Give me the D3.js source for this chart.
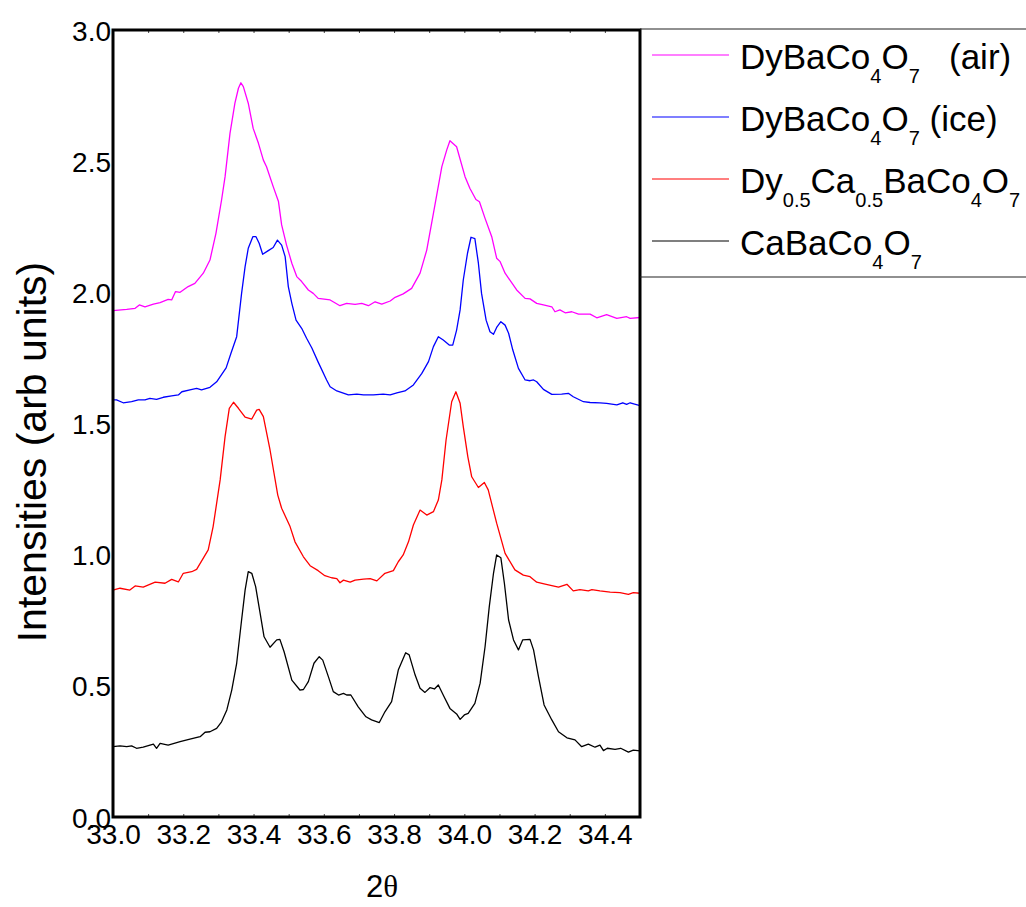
<!DOCTYPE html>
<html>
<head>
<meta charset="utf-8">
<script src="https://cdn.jsdelivr.net/npm/d3@7"></script>
<style>
  html, body { margin: 0; padding: 0; background: #fff; }
  svg { display: block; }
  text { font-family: "Liberation Sans", Arial, Helvetica, sans-serif; fill: #000; }
</style>
</head>
<body>
<svg id="chart" width="1026" height="907"></svg>
<script>
// ---- data ----
const xTicks = [33.0, 33.2, 33.4, 33.6, 33.8, 34.0, 34.2, 34.4];
const xTickLabels = ["33.0", "33.2", "33.4", "33.6", "33.8", "34.0", "34.2", "34.4"];
const yTicks = [0.0, 0.5, 1.0, 1.5, 2.0, 2.5, 3.0];
const yTickLabels = ["0.0", "0.5", "1.0", "1.5", "2.0", "2.5", "3.0"];

const seriesNames = ["DyBaCo4O7 (air)", "DyBaCo4O7 (ice)", "Dy0.5Ca0.5BaCo4O7", "CaBaCo4O7"];
const seriesColors = ["#ff00ff", "#0000ff", "#ff0000", "#000000"];

const airData = [
 [33.000,1.930],[33.039,1.935],[33.063,1.939],[33.075,1.952],[33.091,1.945],[33.115,1.955],[33.134,1.961],
 [33.157,1.973],[33.167,1.971],[33.178,2.003],[33.191,2.000],[33.214,2.022],[33.233,2.034],[33.257,2.073],
 [33.276,2.123],[33.293,2.225],[33.309,2.352],[33.319,2.441],[33.333,2.606],[33.347,2.721],[33.357,2.778],
 [33.364,2.799],[33.371,2.784],[33.385,2.721],[33.399,2.625],[33.414,2.568],[33.428,2.504],[33.437,2.479],
 [33.456,2.403],[33.471,2.346],[33.480,2.257],[33.494,2.180],[33.509,2.111],[33.523,2.060],[33.537,2.041],
 [33.556,2.009],[33.570,1.996],[33.584,1.977],[33.618,1.971],[33.646,1.949],[33.665,1.958],[33.689,1.954],
 [33.708,1.958],[33.727,1.949],[33.746,1.964],[33.765,1.955],[33.789,1.967],[33.803,1.981],[33.826,1.994],
 [33.850,2.015],[33.874,2.073],[33.893,2.161],[33.912,2.301],[33.936,2.479],[33.950,2.543],[33.959,2.578],
 [33.978,2.555],[34.002,2.441],[34.016,2.396],[34.033,2.354],[34.043,2.345],[34.059,2.282],[34.078,2.212],
 [34.092,2.130],[34.102,2.117],[34.116,2.073],[34.149,2.009],[34.173,1.977],[34.187,1.975],[34.206,1.958],
 [34.225,1.952],[34.249,1.945],[34.258,1.926],[34.272,1.933],[34.287,1.922],[34.306,1.926],[34.325,1.917],
 [34.358,1.917],[34.377,1.903],[34.405,1.915],[34.434,1.901],[34.462,1.907],[34.472,1.901],[34.500,1.904]
];

const iceData = [
 [33.000,1.590],[33.010,1.590],[33.029,1.579],[33.053,1.583],[33.072,1.590],[33.091,1.590],[33.105,1.596],
 [33.124,1.592],[33.143,1.600],[33.167,1.605],[33.186,1.609],[33.196,1.621],[33.219,1.628],[33.238,1.634],
 [33.252,1.628],[33.276,1.638],[33.295,1.659],[33.322,1.712],[33.336,1.769],[33.352,1.831],[33.366,1.996],
 [33.376,2.098],[33.385,2.168],[33.398,2.212],[33.407,2.212],[33.416,2.187],[33.426,2.145],[33.442,2.159],
 [33.456,2.171],[33.468,2.199],[33.480,2.180],[33.490,2.136],[33.499,2.022],[33.509,1.958],[33.521,1.894],
 [33.537,1.863],[33.551,1.825],[33.566,1.788],[33.584,1.734],[33.608,1.666],[33.618,1.640],[33.637,1.624],
 [33.670,1.609],[33.694,1.612],[33.713,1.609],[33.741,1.609],[33.769,1.612],[33.789,1.609],[33.808,1.617],
 [33.831,1.624],[33.855,1.647],[33.879,1.691],[33.898,1.736],[33.912,1.793],[33.926,1.831],[33.940,1.818],
 [33.957,1.799],[33.967,1.799],[33.978,1.856],[33.988,1.933],[33.997,2.047],[34.009,2.149],[34.019,2.210],
 [34.030,2.205],[34.040,2.111],[34.049,1.996],[34.062,1.894],[34.073,1.850],[34.083,1.840],[34.092,1.866],
 [34.104,1.888],[34.116,1.875],[34.126,1.844],[34.138,1.780],[34.154,1.710],[34.173,1.666],[34.187,1.663],
 [34.197,1.666],[34.206,1.659],[34.225,1.630],[34.249,1.611],[34.277,1.612],[34.296,1.615],[34.310,1.602],
 [34.339,1.583],[34.358,1.580],[34.386,1.579],[34.405,1.577],[34.434,1.571],[34.451,1.579],[34.462,1.573],
 [34.472,1.579],[34.500,1.568]
];

const mixData = [
 [33.000,0.865],[33.020,0.872],[33.048,0.865],[33.063,0.881],[33.086,0.876],[33.120,0.895],[33.148,0.891],
 [33.167,0.906],[33.186,0.896],[33.200,0.929],[33.224,0.935],[33.238,0.944],[33.271,1.018],[33.285,1.107],
 [33.305,1.285],[33.319,1.450],[33.331,1.558],[33.343,1.581],[33.357,1.558],[33.376,1.524],[33.395,1.517],
 [33.409,1.551],[33.416,1.554],[33.428,1.526],[33.447,1.399],[33.469,1.227],[33.480,1.177],[33.504,1.107],
 [33.518,1.049],[33.542,0.992],[33.561,0.958],[33.584,0.939],[33.603,0.920],[33.622,0.912],[33.637,0.909],
 [33.646,0.893],[33.656,0.903],[33.675,0.895],[33.689,0.903],[33.713,0.907],[33.732,0.909],[33.751,0.900],
 [33.774,0.929],[33.798,0.939],[33.812,0.973],[33.826,0.999],[33.841,1.049],[33.855,1.113],[33.874,1.170],
 [33.893,1.151],[33.912,1.164],[33.926,1.208],[33.936,1.285],[33.948,1.437],[33.964,1.583],[33.976,1.621],
 [33.988,1.577],[33.997,1.488],[34.010,1.373],[34.021,1.297],[34.040,1.256],[34.057,1.275],[34.068,1.247],
 [34.092,1.120],[34.116,1.005],[34.144,0.942],[34.168,0.922],[34.187,0.916],[34.206,0.895],[34.230,0.888],
 [34.249,0.882],[34.268,0.876],[34.292,0.887],[34.310,0.862],[34.329,0.867],[34.353,0.862],[34.363,0.867],
 [34.386,0.862],[34.415,0.857],[34.443,0.855],[34.467,0.849],[34.481,0.855],[34.500,0.853]
];

const caData = [
 [33.000,0.268],[33.020,0.271],[33.039,0.268],[33.053,0.271],[33.067,0.262],[33.086,0.266],[33.115,0.278],
 [33.124,0.262],[33.134,0.281],[33.157,0.274],[33.191,0.287],[33.219,0.297],[33.248,0.306],[33.262,0.323],
 [33.276,0.325],[33.295,0.338],[33.309,0.363],[33.324,0.408],[33.338,0.484],[33.352,0.586],[33.366,0.751],
 [33.376,0.865],[33.385,0.935],[33.395,0.929],[33.406,0.878],[33.418,0.783],[33.430,0.687],[33.447,0.647],
 [33.466,0.675],[33.475,0.677],[33.487,0.630],[33.509,0.522],[33.532,0.484],[33.542,0.486],[33.556,0.516],
 [33.572,0.586],[33.587,0.611],[33.597,0.598],[33.613,0.535],[33.627,0.478],[33.642,0.465],[33.656,0.471],
 [33.665,0.465],[33.677,0.465],[33.698,0.420],[33.720,0.382],[33.736,0.370],[33.758,0.360],[33.774,0.401],
 [33.793,0.440],[33.812,0.560],[33.833,0.626],[33.843,0.618],[33.860,0.541],[33.874,0.491],[33.888,0.475],
 [33.902,0.493],[33.915,0.488],[33.926,0.503],[33.942,0.459],[33.959,0.414],[33.978,0.393],[33.988,0.372],
 [34.000,0.389],[34.011,0.395],[34.030,0.433],[34.045,0.510],[34.059,0.649],[34.071,0.802],[34.083,0.929],
 [34.092,0.999],[34.104,0.988],[34.114,0.891],[34.126,0.751],[34.140,0.675],[34.154,0.637],[34.166,0.675],
 [34.187,0.677],[34.197,0.637],[34.211,0.535],[34.227,0.427],[34.249,0.370],[34.268,0.325],[34.292,0.302],
 [34.315,0.294],[34.334,0.268],[34.353,0.278],[34.372,0.266],[34.386,0.274],[34.396,0.253],[34.407,0.262],
 [34.429,0.258],[34.445,0.262],[34.467,0.247],[34.481,0.255],[34.500,0.252]
];

const allSeries = [airData, iceData, mixData, caData];

// ---- layout ----
const svg = d3.select("#chart");
const plot = { left: 113, right: 640, top: 30, bottom: 817 };

const x = d3.scaleLinear().domain([33.0, 34.5]).range([plot.left, plot.right]);
const y = d3.scaleLinear().domain([0, 3.0]).range([plot.bottom, plot.top]);

// curves
const line = d3.line().x(d => x(d[0])).y(d => y(d[1]));
svg.append("g")
  .selectAll("path")
  .data(allSeries)
  .join("path")
  .attr("d", line)
  .attr("fill", "none")
  .attr("stroke", (d, i) => seriesColors[i])
  .attr("stroke-width", 1.3)
  .attr("stroke-linejoin", "round");

// minor ticks (inward) on top and bottom, every 0.1
const minor = d3.range(0, 16).map(i => 33.0 + i * 0.1);
const bottomAxis = d3.axisBottom(x).tickValues(minor).tickSize(-3).tickFormat("");
const topAxis = d3.axisTop(x).tickValues(minor).tickSize(-3).tickFormat("");
svg.append("g").attr("transform", `translate(0,${plot.bottom})`).call(bottomAxis)
  .call(g => g.select(".domain").remove())
  .call(g => g.selectAll("line").attr("stroke", "#444"));
svg.append("g").attr("transform", `translate(0,${plot.top})`).call(topAxis)
  .call(g => g.select(".domain").remove())
  .call(g => g.selectAll("line").attr("stroke", "#444"));

// frame
svg.append("rect")
  .attr("x", plot.left).attr("y", plot.top)
  .attr("width", plot.right - plot.left).attr("height", plot.bottom - plot.top)
  .attr("fill", "none").attr("stroke", "#000").attr("stroke-width", 3);

// x tick labels
const xl = d3.axisBottom(x).tickValues(xTicks).tickSize(0).tickPadding(0)
  .tickFormat((d, i) => xTickLabels[i]);
svg.append("g").attr("transform", `translate(0,${plot.bottom})`).call(xl)
  .call(g => g.select(".domain").remove())
  .call(g => g.selectAll("text")
     .attr("y", 27).attr("dy", null)
     .style("font-size", "28px")
     .style("font-family", "'Liberation Sans', Arial, sans-serif")
     .attr("fill", "#000"));

// y tick labels
const yl = d3.axisLeft(y).tickValues(yTicks).tickSize(0).tickPadding(0)
  .tickFormat((d, i) => yTickLabels[i]);
svg.append("g").attr("transform", `translate(${plot.left - 2},0)`).call(yl)
  .call(g => g.select(".domain").remove())
  .call(g => g.selectAll("text")
     .attr("x", 0).attr("dy", "0.36em")
     .style("font-size", "28px")
     .style("font-family", "'Liberation Sans', Arial, sans-serif")
     .attr("fill", "#000"));

// axis titles
const xt = svg.append("text")
  .attr("x", 382).attr("y", 897)
  .attr("text-anchor", "middle")
  .style("font-size", "31px");
xt.append("tspan").text("2");
xt.append("tspan").style("font-family", "'Liberation Serif', 'DejaVu Serif', serif").text("θ");

svg.append("text")
  .attr("transform", "translate(46,452) rotate(-90)")
  .attr("text-anchor", "middle")
  .style("font-size", "41px")
  .text("Intensities (arb units)");

// legend
const legTop = 29, legBottom = 277;
svg.append("line").attr("x1", plot.right).attr("x2", 1026).attr("y1", legTop).attr("y2", legTop)
  .attr("stroke", "#222").attr("stroke-width", 1.2);
svg.append("line").attr("x1", plot.right).attr("x2", 1026).attr("y1", legBottom).attr("y2", legBottom)
  .attr("stroke", "#222").attr("stroke-width", 1.2);

// label parts: [text, isSubscript]
const legendParts = [
  [["DyBaCo", 0], ["4", 1], ["O", 0], ["7", 1], ["   (air)", 0]],
  [["DyBaCo", 0], ["4", 1], ["O", 0], ["7", 1], [" (ice)", 0]],
  [["Dy", 0], ["0.5", 1], ["Ca", 0], ["0.5", 1], ["BaCo", 0], ["4", 1], ["O", 0], ["7", 1]],
  [["CaBaCo", 0], ["4", 1], ["O", 0], ["7", 1]]
];
const rowY = [55, 117, 179, 241];
const leg = svg.append("g");
legendParts.forEach((parts, i) => {
  leg.append("line")
    .attr("x1", 652).attr("x2", 729).attr("y1", rowY[i]).attr("y2", rowY[i])
    .attr("stroke", seriesColors[i]).attr("stroke-width", 1.2);
  const t = leg.append("text")
    .attr("x", 740).attr("y", rowY[i] + 14)
    .style("font-size", "35px")
    .style("white-space", "pre");
  let sub = false;
  parts.forEach(([s, isSub]) => {
    const ts = t.append("tspan").text(s);
    if (isSub && !sub) { ts.attr("dy", 14).style("font-size", "20px"); sub = true; }
    else if (isSub && sub) { ts.style("font-size", "20px"); }
    else if (!isSub && sub) { ts.attr("dy", -14); sub = false; }
  });
});
</script>
</body>
</html>
